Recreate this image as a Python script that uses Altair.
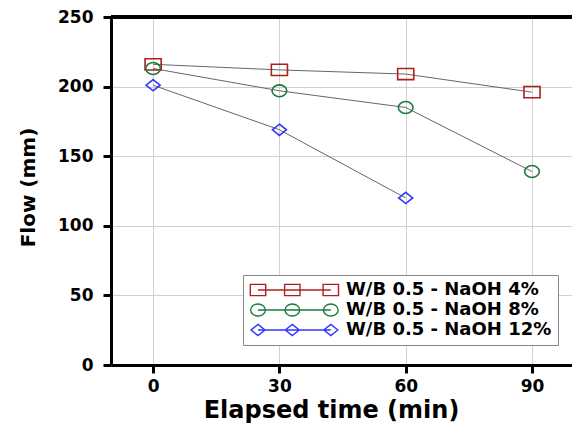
import altair as alt
import pandas as pd

# Flow of the mixes over elapsed time
times = [0, 30, 60, 90]
series_names = ["W/B 0.5 - NaOH 4%", "W/B 0.5 - NaOH 8%", "W/B 0.5 - NaOH 12%"]
flow_4 = [216, 212, 209, 196]
flow_8 = [213, 197, 185, 139]
flow_12 = [201, 169, 120]

colors = ["#b01e1e", "#1b7a3c", "#3434ff"]

rows = []
for name, values in zip(series_names, [flow_4, flow_8, flow_12]):
    for t, v in zip(times, values):
        rows.append({"time": t, "flow": v, "series": name})
df = pd.DataFrame(rows)

# open markers (unit = sqrt(size)/2 pixels)
marker_paths = [
    "M-1.15,-0.8H1.15V0.8H-1.15Z",
    "M-1.05,0A1.05,0.85,0,1,0,1.05,0A1.05,0.85,0,1,0,-1.05,0Z",
    "M0,-0.8L1,0L0,0.8L-1,0Z",
]


def legend_path(marker_at):
    # three markers joined by a line, as the legend sample
    parts = ["M0,0H10.4"]
    for cx in (0, 4.9, 10.4):
        parts.append(marker_at(cx))
    return " ".join(parts)


legend_paths = [
    legend_path(lambda c: f"M{c-1.1},-0.8H{c+1.1}V0.8H{c-1.1}Z"),
    legend_path(lambda c: f"M{c-1.05},0A1.05,0.85,0,1,0,{c+1.05},0A1.05,0.85,0,1,0,{c-1.05},0Z"),
    legend_path(lambda c: f"M{c},-0.8L{c+1},0L{c},0.8L{c-1},0Z"),
]

x_enc = alt.X(
    "time:Q",
    scale=alt.Scale(domain=[-10, 99.5], nice=False, zero=False),
    axis=alt.Axis(
        values=times,
        title="Elapsed time (min)",
        titleFontSize=24,
        titleX=220,
        titleY=52,
        titleBaseline="alphabetic",
        labelPadding=5,
    ),
)
y_enc = alt.Y(
    "flow:Q",
    scale=alt.Scale(domain=[0, 250], nice=False),
    axis=alt.Axis(
        values=[0, 50, 100, 150, 200, 250],
        title="Flow (mm)",
        titleFontSize=20,
        titleX=-83,
        titleY=170,
        titleAngle=-90,
        titleAlign="center",
        titleBaseline="middle",
        labelPadding=10,
    ),
)

legend_spec = alt.Legend(
    title=None,
    orient="none",
    legendX=132,
    legendY=258,
    padding=6,
    strokeColor="#888888",
    fillColor="white",
    labelFontSize=18,
    labelFont="DejaVu Sans",
    labelFontWeight="bold",
    labelColor="black",
    labelLimit=0,
    labelOffset=79,
    rowPadding=2,
    symbolSize=196,
    symbolStrokeWidth=1.4,
    symbolFillColor="transparent",
)

lines = alt.Chart(df).mark_line(color="#666666", strokeWidth=1).encode(
    x=x_enc, y=y_enc, detail="series:N"
)

points = alt.Chart(df).mark_point(filled=False, strokeWidth=1.6, size=196, opacity=1).encode(
    x=x_enc,
    y=y_enc,
    stroke=alt.Stroke("series:N", scale=alt.Scale(domain=series_names, range=colors), legend=None),
    shape=alt.Shape("series:N", scale=alt.Scale(domain=series_names, range=marker_paths), legend=None),
)

legend_layer = (
    alt.Chart(df)
    .transform_filter("false")
    .mark_point(filled=False, strokeWidth=1.4, size=196, opacity=1)
    .encode(
        x=x_enc,
        y=y_enc,
        stroke=alt.Stroke("series:N", scale=alt.Scale(domain=series_names, range=colors), legend=legend_spec),
        shape=alt.Shape("series:N", scale=alt.Scale(domain=series_names, range=legend_paths), legend=legend_spec),
    )
)

top_rule = alt.Chart(df).mark_rule(color="black", strokeWidth=3).encode(y=alt.datum(250))

chart = (
    alt.layer(lines, points, legend_layer, top_rule)
    .resolve_scale(shape="independent", stroke="independent")
    .properties(
        width=461,
        height=348,
        autosize=alt.AutoSizeParams(type="none"),
        padding={"left": 111, "top": 17, "right": 0, "bottom": 58},
    )
    .configure_view(stroke=None)
    .configure_axis(
        domainColor="black",
        domainWidth=3,
        tickColor="black",
        tickWidth=3,
        tickSize=8,
        labelFont="DejaVu Sans",
        labelFontWeight="bold",
        labelFontSize=17,
        labelColor="black",
        titleFont="DejaVu Sans",
        titleFontWeight="bold",
        titleColor="black",
        gridColor="#d0d0d0",
        gridWidth=1,
    )
)

chart.save("out.html", embed_options={"renderer": "svg", "actions": False})
